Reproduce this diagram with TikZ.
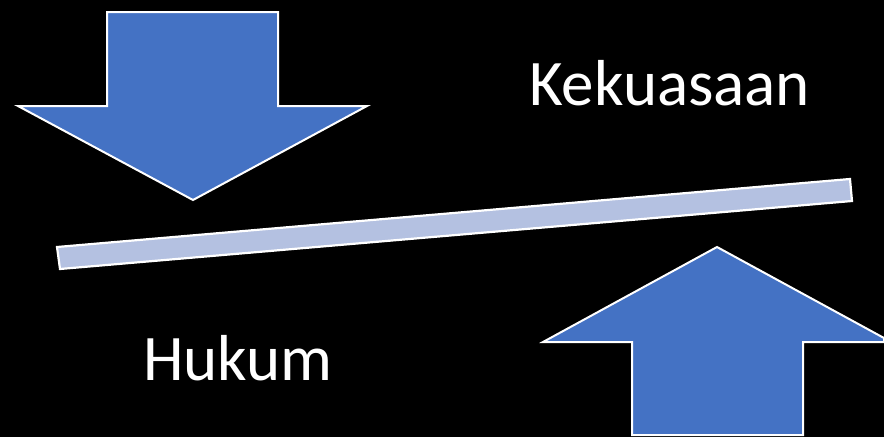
\documentclass[tikz,border=0pt]{standalone}
\usepackage{fontspec}
\setmainfont{Carlito}
\definecolor{arrowblue}{HTML}{4472C4}
\definecolor{barblue}{HTML}{B4C1E1}
\begin{document}
\begin{tikzpicture}[x=1pt,y=-1pt,
  bigarrow/.style={fill=arrowblue,draw=white,line width=2pt,line join=miter},
  beam/.style={fill=barblue,draw=white,line width=2.2pt,line join=miter},
  label/.style={text=white,font=\fontsize{65}{78}\selectfont,inner sep=0pt,anchor=base west}]
\fill[black] (0,0) rectangle (884,437);
\useasboundingbox (0,0) rectangle (884,437);
\begin{scope}
\clip (0,0) rectangle (884,437);
% down arrow
\draw[bigarrow] (107,12) -- (278,12) -- (278,106) -- (367,106) -- (193,200) -- (18,106) -- (107,106) -- cycle;
% up arrow
\draw[bigarrow] (632,435) -- (632,342) -- (543,342) -- (717,247) -- (884,338) -- (884,342) -- (803,342) -- (803,435) -- cycle;
% beam
\draw[beam] (57,247) -- (850,179) -- (852,201) -- (60,269) -- cycle;
\end{scope}
\node[label] (kek) at (529,105) {Kekuasaan};
\node[label] (huk) at (143,380) {Hukum};
\end{tikzpicture}
\end{document}
